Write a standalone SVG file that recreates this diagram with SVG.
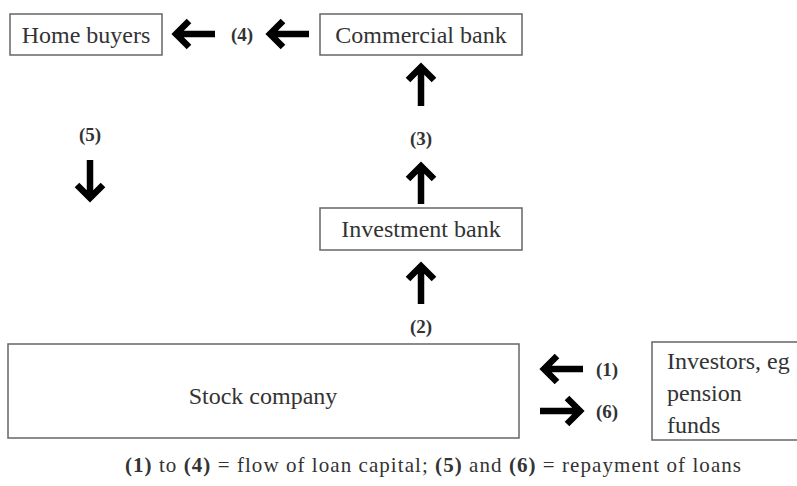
<svg xmlns="http://www.w3.org/2000/svg" width="797" height="486" viewBox="0 0 797 486">
<defs>
<style>
.box{fill:#fff;stroke:#666;stroke-width:1.5}
.t{font-family:"Liberation Serif","Times New Roman",serif;font-size:24px;fill:#333}
.n{font-family:"Liberation Serif","Times New Roman",serif;font-size:19px;font-weight:bold;fill:#333;text-anchor:middle}
.a{fill:none;stroke:#000;stroke-width:6.5;stroke-linejoin:miter;stroke-linecap:butt}
.cap{font-family:"Liberation Serif","Times New Roman",serif;font-size:21px;fill:#333}
</style>
</defs>
<rect width="797" height="486" fill="#fff"/>
<g id="home-buyers"><rect class="box" x="10" y="14" width="152" height="41"/><text class="t" x="86" y="43" text-anchor="middle">Home buyers</text></g>
<g id="commercial-bank"><rect class="box" x="320" y="14" width="202" height="41"/><text class="t" x="421" y="43" text-anchor="middle">Commercial bank</text></g>
<g id="investment-bank"><rect class="box" x="320" y="208" width="202" height="42"/><text class="t" x="421" y="237" text-anchor="middle">Investment bank</text></g>
<g id="stock-company"><rect class="box" x="8" y="344" width="511" height="94"/><text class="t" x="263" y="404" text-anchor="middle">Stock company</text></g>
<g id="investors"><rect class="box" x="652" y="342" width="150" height="98"/><text class="t" x="667" y="369" font-size="23">Investors, eg</text><text class="t" x="667" y="401" font-size="23">pension</text><text class="t" x="667" y="433" font-size="23">funds</text></g>
<g id="connectors">
<path class="a" d="M215 34H177M189 21L176 34L189 47"/>
<path class="a" d="M309 34H271M283 21L270 34L283 47"/>
<path class="a" d="M421 106V67M408 80L421 67L434 80"/>
<path class="a" d="M421 204V166M408 179L421 166L434 179"/>
<path class="a" d="M421 304V266M408 279L421 266L434 279"/>
<path class="a" d="M90 160V198M77 185L90 198L103 185"/>
<path class="a" d="M583 369H544M557 356L544 369L557 382"/>
<path class="a" d="M540 411H580M567 398L580 411L567 424"/>
<text class="n" x="242" y="41">(4)</text>
<text class="n" x="421" y="145">(3)</text>
<text class="n" x="421" y="333">(2)</text>
<text class="n" x="90" y="141">(5)</text>
<text class="n" x="607" y="376">(1)</text>
<text class="n" x="607" y="418">(6)</text>
</g>
<text class="cap" x="433" y="472" text-anchor="middle" textLength="616" lengthAdjust="spacing"><tspan font-weight="bold">(1)</tspan>  to  <tspan font-weight="bold">(4)</tspan> = flow of loan capital; <tspan font-weight="bold">(5)</tspan> and <tspan font-weight="bold">(6)</tspan> = repayment of loans</text>
</svg>
